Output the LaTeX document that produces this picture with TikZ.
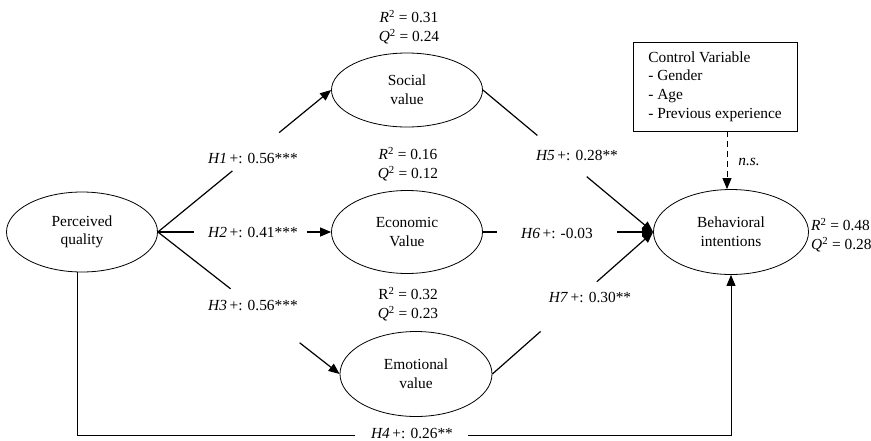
\documentclass[tikz,border=0pt]{standalone}
\usepackage{fontspec}
\setmainfont{Liberation Serif}
\usetikzlibrary{arrows.meta,calc,shapes.geometric}
\tikzset{
  ell/.style={draw, ellipse, line width=0.8pt, inner sep=0pt, align=center},
  conn/.style={line width=1.2pt},
  arr/.style={conn, -{Triangle[length=11pt,width=9pt]}},
  lbl/.style={inner sep=0pt, align=center},
  txt/.style={font=\fontsize{15.4}{18.6}\selectfont}
}
\begin{document}
\begin{tikzpicture}[x=1pt,y=-1pt,every node/.style={txt}]
\useasboundingbox (0,0) rectangle (871,440);
% nodes
\node[ell, minimum width=151, minimum height=80] (pq) at (82,232) {Perceived\\quality};
\node[ell, minimum width=151, minimum height=74] (soc) at (407,90) {Social\\value};
\node[ell, minimum width=151, minimum height=83] (eco) at (407,232) {Economic\\Value};
\node[ell, minimum width=152, minimum height=85] (emo) at (416,374) {Emotional\\value};
\node[ell, minimum width=155, minimum height=85] (bi) at (731,232) {Behavioral\\intentions};
\node[draw, line width=0.8pt, minimum width=164, minimum height=89, align=left, inner xsep=0pt] (cv) at (715,86.5) {Control Variable\\- Gender\\- Age\\- Previous experience};
% R2 / Q2 labels
\node[lbl] (rsoc) at (409,27) {\textit{R}\textsuperscript{2} = 0.31\\\textit{Q}\textsuperscript{2} = 0.24};
\node[lbl] (reco) at (408,164) {\textit{R}\textsuperscript{2} = 0.16\\\textit{Q}\textsuperscript{2} = 0.12};
\node[lbl] (remo) at (408,304) {R\textsuperscript{2} = 0.32\\\textit{Q}\textsuperscript{2} = 0.23};
\node[lbl, align=left, anchor=west] (rbi) at (811,235) {\textit{R}\textsuperscript{2} = 0.48\\\textit{Q}\textsuperscript{2} = 0.28};
% path labels
\node[lbl] (l1) at (253,158) {\textit{H1}\,+: 0.56***};
\node[lbl] (l2) at (253,232) {\textit{H2}\,+: 0.41***};
\node[lbl] (l3) at (253,305) {\textit{H3}\,+: 0.56***};
\node[lbl] (l4) at (412,433) {\textit{H4}\,+: 0.26**};
\node[lbl] (l5) at (577,155) {\textit{H5}\,+: 0.28**};
\node[lbl] (l6) at (557,233) {\textit{H6}\,+: -0.03};
\node[lbl] (l7) at (590,297) {\textit{H7}\,+: 0.30**};
\node[lbl] (lns) at (749,162) {\textit{n.s.}};
% gap coordinates
\coordinate (h1a) at ($(pq.east)!0.43!(soc.west)$);
\coordinate (h1b) at ($(pq.east)!0.70!(soc.west)$);
\coordinate (h2a) at ($(pq.east)!0.21!(eco.west)$);
\coordinate (h2b) at ($(pq.east)!0.86!(eco.west)$);
\coordinate (h3a) at ($(pq.east)!0.40!(emo.west)$);
\coordinate (h3b) at ($(pq.east)!0.78!(emo.west)$);
\coordinate (h5a) at ($(soc.east)!0.32!(bi.west)$);
\coordinate (h5b) at ($(soc.east)!0.61!(bi.west)$);
\coordinate (h6a) at ($(eco.east)!0.082!(bi.west)$);
\coordinate (h6b) at ($(eco.east)!0.79!(bi.west)$);
\coordinate (h7a) at ($(emo.east)!0.30!(bi.west)$);
\coordinate (h7b) at ($(emo.east)!0.65!(bi.west)$);
\coordinate (h4a) at (355,435);
\coordinate (h4b) at (468,435);
\coordinate (pqb) at ($(pq.south)+(-5,-0.5)$);
% connectors
\draw[conn] (pq.east) -- (h1a);
\draw[arr] (h1b) -- (soc.west);
\draw[conn] (pq.east) -- (h2a);
\draw[arr] (h2b) -- (eco.west);
\draw[conn] (pq.east) -- (h3a);
\draw[arr] (h3b) -- (emo.west);
\draw[conn] (soc.east) -- (h5a);
\draw[arr] (h5b) -- (bi.west);
\draw[conn] (eco.east) -- (h6a);
\draw[arr] (h6b) -- (bi.west);
\draw[conn] (emo.east) -- (h7a);
\draw[arr] (h7b) -- (bi.west);
\draw[line width=0.9pt] (pqb) |- (h4a);
\draw[line width=0.9pt, -{Triangle[length=11pt,width=9pt]}] (h4b) -| (bi.south);
\draw[line width=1pt, dash pattern=on 6pt off 4pt, -{Triangle[length=11pt,width=9pt]}] (cv.south -| 727,0) -- (727,0 |- bi.north);
\end{tikzpicture}
\end{document}
